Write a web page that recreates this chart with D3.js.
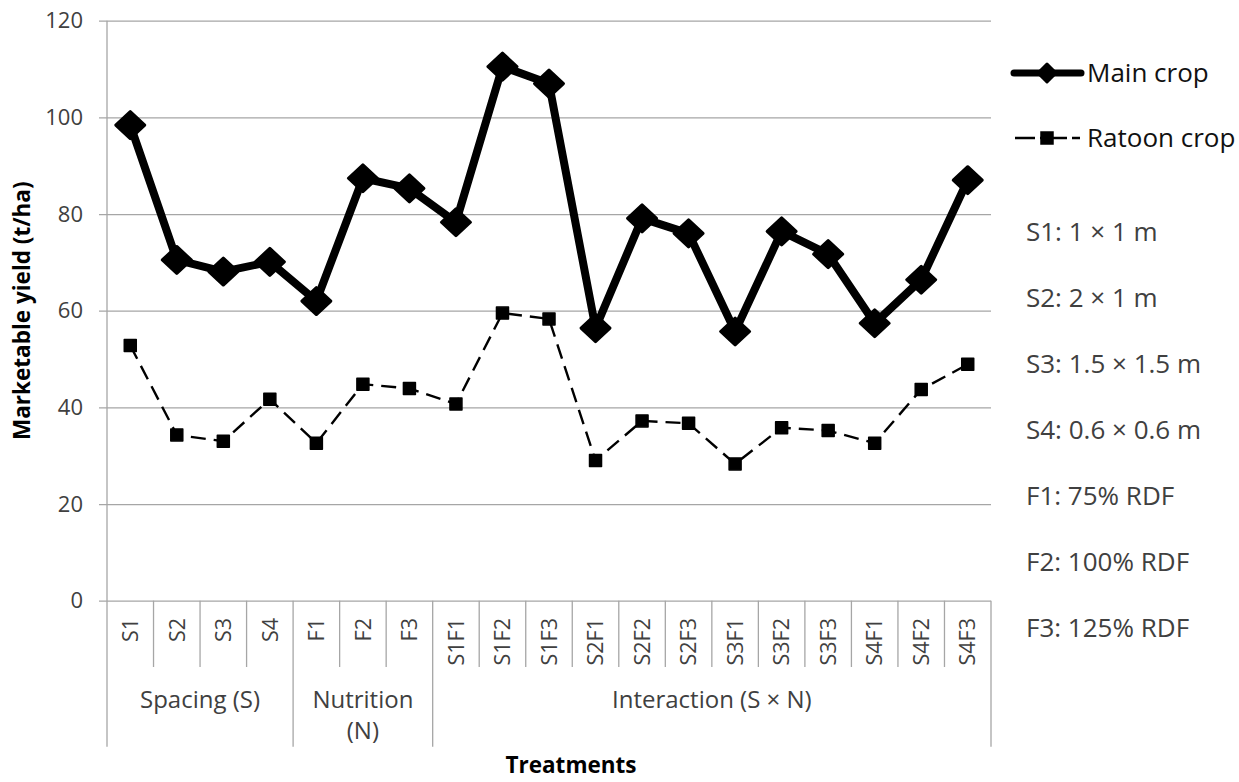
<!DOCTYPE html>
<html>
<head>
<meta charset="utf-8">
<script src="https://cdn.jsdelivr.net/npm/d3@7"></script>
<style>
  html, body { margin: 0; padding: 0; background: #fff; }
  svg { display: block; }
  text { font-family: "Open Sans", "Noto Sans", sans-serif; }
</style>
</head>
<body>
<svg id="chart" width="1239" height="782"></svg>
<script>
// ---------- data ----------
const categories = ["S1","S2","S3","S4","F1","F2","F3","S1F1","S1F2","S1F3","S2F1","S2F2","S2F3","S3F1","S3F2","S3F3","S4F1","S4F2","S4F3"];
const mainCrop   = [98.4, 70.5, 68.1, 70.1, 62.0, 87.4, 85.3, 78.3, 110.5, 107.0, 56.4, 79.1, 76.0, 55.7, 76.4, 71.7, 57.4, 66.4, 87.0];
const ratoonCrop = [52.8, 34.3, 33.0, 41.7, 32.6, 44.8, 43.9, 40.7, 59.5, 58.3, 29.0, 37.2, 36.7, 28.3, 35.8, 35.2, 32.6, 43.7, 48.9];
const seriesNames = ["Main crop", "Ratoon crop"];
const groupLabels = [["Spacing (S)"], ["Nutrition", "(N)"], ["Interaction (S \u00d7 N)"]];
const groupSizes  = [4, 3, 12];
const yTicks = [0, 20, 40, 60, 80, 100, 120];
const notes = ["S1: 1 \u00d7 1 m", "S2: 2 \u00d7 1 m", "S3: 1.5 \u00d7 1.5 m", "S4: 0.6 \u00d7 0.6 m", "F1: 75% RDF", "F2: 100% RDF", "F3: 125% RDF"];
const yTitle = "Marketable yield (t/ha)";
const xTitle = "Treatments";

// ---------- layout ----------
const L = 107, R = 991, T = 20.7, B = 600.7;
const tickBottom = 667, groupBottom = 746.7;
const gridColor = "#a6a6a6";
const textGray = "#404040";

const svg = d3.select("#chart");
const x = d3.scaleBand().domain(categories).range([L, R]).padding(0);
const y = d3.scaleLinear().domain([0, 120]).range([B, T]);
const cx = c => x(c) + x.bandwidth() / 2;

// gridlines + y ticks
const yAxis = d3.axisLeft(y).tickValues(yTicks).tickSize(-(R - L)).tickSizeOuter(0).tickPadding(16);
const gy = svg.append("g").attr("transform", `translate(${L},0)`).call(yAxis);
gy.select(".domain").remove();
gy.selectAll(".tick line").attr("stroke", gridColor).attr("stroke-width", 1.3).attr("x1", -8);
gy.selectAll(".tick text").attr("fill", textGray).attr("font-size", 22)
  .attr("font-family", "'Open Sans', sans-serif").attr("x", -24);

// vertical axis line (extends down through the category area)
svg.append("line").attr("x1", L).attr("x2", L).attr("y1", T).attr("y2", groupBottom)
  .attr("stroke", gridColor).attr("stroke-width", 1.3);
svg.append("line").attr("x1", R).attr("x2", R).attr("y1", B).attr("y2", groupBottom)
  .attr("stroke", gridColor).attr("stroke-width", 1.3);

// category separators
const groupEnds = [];
let acc = 0;
groupSizes.forEach(n => { acc += n; groupEnds.push(acc); });
for (let i = 1; i < categories.length; i++) {
  const xx = x(categories[i]);
  const isGroup = groupEnds.includes(i);
  svg.append("line").attr("x1", xx).attr("x2", xx).attr("y1", B)
    .attr("y2", isGroup ? groupBottom : tickBottom)
    .attr("stroke", gridColor).attr("stroke-width", 1.3);
}

// category labels (rotated)
svg.append("g").selectAll("text").data(categories).join("text")
  .attr("transform", d => `translate(${cx(d)},618) rotate(-90)`)
  .attr("text-anchor", "end").attr("dy", "0.36em")
  .attr("font-size", 21.5).attr("fill", textGray).text(d => d);

// group labels
let start = 0;
groupLabels.forEach((lines, gi) => {
  const s = start, e = start + groupSizes[gi];
  const gx = (x(categories[s]) + x(categories[e - 1]) + x.bandwidth()) / 2;
  lines.forEach((ln, li) => {
    svg.append("text").attr("x", gx).attr("y", 708 + li * 31)
      .attr("text-anchor", "middle").attr("font-size", 24).attr("fill", textGray).text(ln);
  });
  start = e;
});

// lines
const lineGen = d3.line().x((d, i) => cx(categories[i])).y(d => y(d));
svg.append("path").datum(ratoonCrop).attr("d", lineGen)
  .attr("fill", "none").attr("stroke", "#000").attr("stroke-width", 2.4)
  .attr("stroke-dasharray", "15,8");
svg.append("path").datum(mainCrop).attr("d", lineGen)
  .attr("fill", "none").attr("stroke", "#000").attr("stroke-width", 8)
  .attr("stroke-linejoin", "round");

// markers
const diamond = (px, py, hw, hh) => `M${px},${py - hh}L${px + hw},${py}L${px},${py + hh}L${px - hw},${py}Z`;
svg.append("g").selectAll("path").data(mainCrop).join("path")
  .attr("d", (d, i) => diamond(cx(categories[i]), y(d), 14.5, 13.5))
  .attr("fill", "#000").attr("stroke", "#000").attr("stroke-width", 3).attr("stroke-linejoin", "round");
svg.append("g").selectAll("rect").data(ratoonCrop).join("rect")
  .attr("x", (d, i) => cx(categories[i]) - 6).attr("y", d => y(d) - 6)
  .attr("width", 12).attr("height", 12)
  .attr("fill", "#000").attr("stroke", "#000").attr("stroke-width", 1.5).attr("stroke-linejoin", "round");

// legend
const lgX1 = 1014, lgX2 = 1081, lgMid = 1047;
svg.append("line").attr("x1", lgX1).attr("x2", lgX2).attr("y1", 73).attr("y2", 73)
  .attr("stroke", "#000").attr("stroke-width", 7).attr("stroke-linecap", "round");
svg.append("path").attr("d", diamond(lgMid, 73, 9, 9))
  .attr("fill", "#000").attr("stroke", "#000").attr("stroke-width", 3).attr("stroke-linejoin", "round");
svg.append("text").attr("x", 1087).attr("y", 73).attr("dy", "0.36em")
  .attr("font-size", 26).attr("fill", "#111").text(seriesNames[0]);

svg.append("line").attr("x1", 1015).attr("x2", 1080).attr("y1", 138).attr("y2", 138)
  .attr("stroke", "#000").attr("stroke-width", 2.4).attr("stroke-dasharray", "20,5,27,5,8");
svg.append("rect").attr("x", lgMid - 6).attr("y", 132).attr("width", 12).attr("height", 12)
  .attr("fill", "#000").attr("stroke", "#000").attr("stroke-width", 1.5);
svg.append("text").attr("x", 1087).attr("y", 138).attr("dy", "0.36em")
  .attr("font-size", 26).attr("fill", "#111").text(seriesNames[1]);

// notes
svg.append("g").selectAll("text").data(notes).join("text")
  .attr("x", 1026).attr("y", (d, i) => 232 + i * 66).attr("dy", "0.36em")
  .attr("font-size", 26).attr("fill", textGray).text(d => d);

// axis titles
svg.append("text").attr("transform", `translate(22,${(T + B) / 2}) rotate(-90)`)
  .attr("text-anchor", "middle").attr("dy", "0.36em")
  .attr("font-size", 22.5).attr("font-weight", "bold").attr("fill", "#000").text(yTitle);
svg.append("text").attr("x", 571).attr("y", 773)
  .attr("text-anchor", "middle").attr("font-size", 22.5).attr("font-weight", "bold").attr("fill", "#000").text(xTitle);
</script>
</body>
</html>
